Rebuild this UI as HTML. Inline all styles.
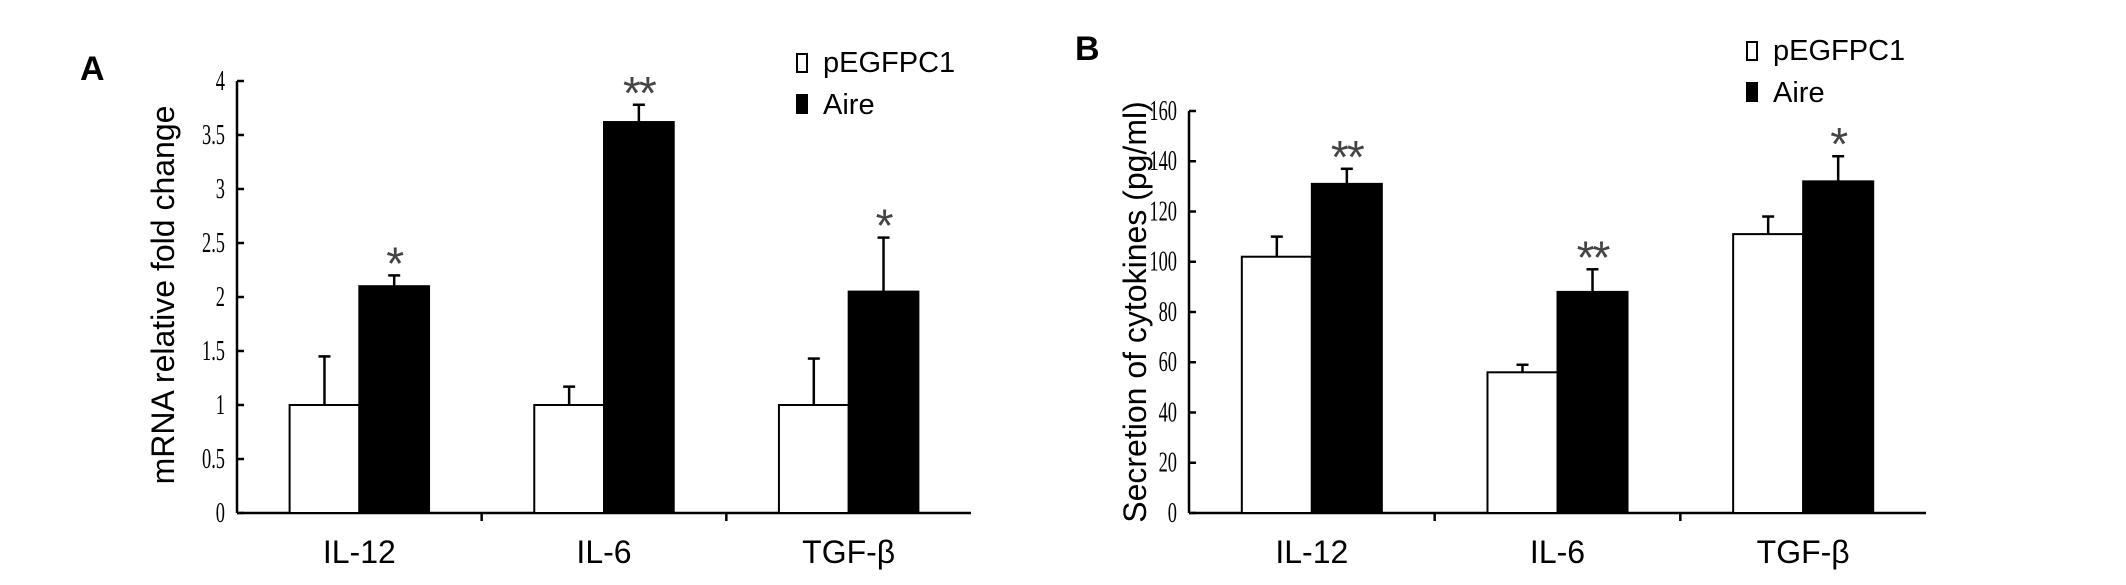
<!DOCTYPE html>
<html><head><meta charset="utf-8"><style>
body{margin:0;background:#fff}
svg text{font-family:"Liberation Sans",sans-serif}
.tk{font-family:"Liberation Serif",serif;font-size:23px}
</style></head><body>
<svg width="2126" height="580" viewBox="0 0 2126 580" xmlns="http://www.w3.org/2000/svg">
<g id="root"></g>
</svg>
<script>
const categories=["IL-12","IL-6","TGF-β"];
const aCtrl=[1,1,1];
const aCtrlErr=[0.45,0.17,0.43];
const aAire=[2.1,3.62,2.05];
const aAireErr=[0.1,0.16,0.5];
const aStars=["*","**","*"];
const aTicks=["0","0.5","1","1.5","2","2.5","3","3.5","4"];
const bCtrl=[102,56,111];
const bCtrlErr=[8,3,7];
const bAire=[131,88,132];
const bAireErr=[6,9,10];
const bStars=["**","**","*"];
const bTicks=["0","20","40","60","80","100","120","140","160"];

const NS="http://www.w3.org/2000/svg";
const root=document.getElementById('root');
function mk(tag,attrs,parent){const e=document.createElementNS(NS,tag);for(const k in attrs)e.setAttribute(k,attrs[k]);(parent||root).appendChild(e);return e;}

function panel(cfg){
  const g=mk('g',{});
  
  
  const y=v=>cfg.y0-(v/cfg.max)*(cfg.y0-cfg.yTop);
  const ya=mk('line',{x1:cfg.ax,y1:cfg.yTop,x2:cfg.ax,y2:cfg.y0,stroke:'#000','stroke-width':2.5},g);
  
  
  const xa=mk('line',{x1:cfg.ax,y1:cfg.y0,x2:cfg.xEnd,y2:cfg.y0,stroke:'#000','stroke-width':2.5},g);
  
  
  cfg.ticks.forEach((t,i)=>{
    const v=i*cfg.max/(cfg.ticks.length-1);
    mk('line',{x1:cfg.ax,y1:y(v),x2:cfg.ax+7,y2:y(v),stroke:'#000','stroke-width':2.5},g);
    const tx0=cfg.ax-12, ty0=y(v);
    const tx=mk('text',{x:0,y:7,'text-anchor':'end',class:'tk',transform:`translate(${tx0},${ty0}) scale(0.8,1.25)`},g);
    tx.textContent=t;
    
    
  });
  const gw=(cfg.xEnd-cfg.ax)/3;
  for(let i=1;i<3;i++) mk('line',{x1:cfg.ax+gw*i,y1:cfg.y0,x2:cfg.ax+gw*i,y2:cfg.y0+8,stroke:'#000','stroke-width':2.5},g);
  categories.forEach((c,i)=>{
    const cx=cfg.ax+gw*(i+0.5);
    const bw=gw*0.285;
    const vals=[[cfg.ctrl[i],cfg.ctrlErr[i],'#fff','bar-pegfpc1-'+i],[cfg.aire[i],cfg.aireErr[i],'#000','bar-aire-'+i]];
    vals.forEach((d,j)=>{
      const x0=j===0?cx-bw:cx;
      const bx=x0+bw/2;
      const e=mk('line',{x1:bx,y1:y(d[0]),x2:bx,y2:y(d[0]+d[1]),stroke:'#000','stroke-width':2.5},g);
      
      
      mk('line',{x1:bx-6,y1:y(d[0]+d[1]),x2:bx+6,y2:y(d[0]+d[1]),stroke:'#000','stroke-width':2.5},g);
      const r=mk('rect',{x:x0,y:y(d[0]),width:bw,height:cfg.y0-y(d[0]),fill:d[2],stroke:'#000','stroke-width':2},g);
      
      
      if(j===1){
        const s=mk('text',{x:bx,y:y(d[0]+d[1])+4,'text-anchor':'middle','font-size':46,fill:'#444','letter-spacing':'-2'},g);
        s.textContent=cfg.stars[i];
        
        
      }
    });
    const l=mk('text',{x:cx,y:cfg.y0+50,'text-anchor':'middle','font-size':32},g);
    l.textContent=c;
    
    
  });
  const yt=mk('text',{x:cfg.titleX,y:cfg.titleY,'text-anchor':'middle','font-size':32,transform:`rotate(-90 ${cfg.titleX} ${cfg.titleY})`},g);
  yt.textContent=cfg.title;
  
  
  const pl=mk('text',{x:cfg.letterX,y:cfg.letterY,'font-size':34,'font-weight':'bold','font-family':'Liberation Serif, serif'},g);
  pl.textContent=cfg.letter;
  
  
  const lg=mk('g',{},g);
  
  
  const r1=mk('rect',{x:cfg.legX,y:cfg.legY-18,width:10,height:18,fill:'#fff',stroke:'#000','stroke-width':2},lg);
  
  
  const t1=mk('text',{x:cfg.legX+26,y:cfg.legY,'font-size':29},lg);t1.textContent='pEGFPC1';
  
  
  const r2=mk('rect',{x:cfg.legX,y:cfg.legY+23,width:10,height:18,fill:'#000',stroke:'#000','stroke-width':2},lg);
  
  
  const t2=mk('text',{x:cfg.legX+26,y:cfg.legY+42,'font-size':29},lg);t2.textContent='Aire';
  
  
}
panel({name:'panel-a',ax:237,xEnd:971,yTop:81,y0:513,max:4,ticks:aTicks,ctrl:aCtrl,ctrlErr:aCtrlErr,aire:aAire,aireErr:aAireErr,stars:aStars,
  title:'mRNA  relative fold change',titleX:174,titleY:295,letter:'A',letterX:80,letterY:80,legX:797,legY:72});
panel({name:'panel-b',ax:1189,xEnd:1926,yTop:111,y0:513,max:160,ticks:bTicks,ctrl:bCtrl,ctrlErr:bCtrlErr,aire:bAire,aireErr:bAireErr,stars:bStars,
  title:'Secretion of cytokines (pg/ml)',titleX:1146,titleY:312,letter:'B',letterX:1075,letterY:60,legX:1747,legY:60});
</script>
</body></html>
